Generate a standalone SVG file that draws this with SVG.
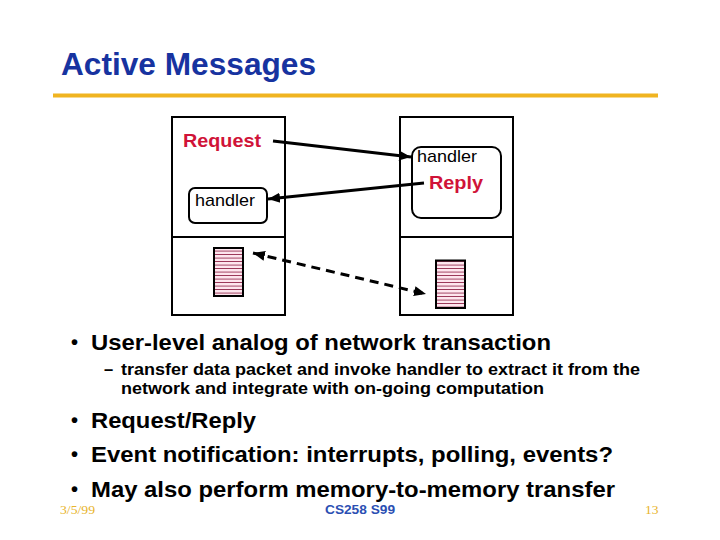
<svg xmlns="http://www.w3.org/2000/svg" width="720" height="540" viewBox="0 0 720 540">
<defs>
<style>
.sans{font-family:"Liberation Sans",Arial,sans-serif}
.serif{font-family:"Liberation Serif","Times New Roman",serif}
.title{font-size:31px;font-weight:bold;fill:#1733a0}
.b1{font-size:22px;font-weight:bold;fill:#000}
.dot{font-size:20px;font-weight:bold;fill:#000}
.b2{font-size:16.5px;font-weight:bold;fill:#000}
.red{font-size:19px;font-weight:bold;fill:#d01338}
.hd{font-size:17px;fill:#000}
.box{fill:#fff;stroke:#000;stroke-width:2}
.hbox{fill:#fff;stroke:#000;stroke-width:2}
.mem{fill:url(#stripes);stroke:#000;stroke-width:2}
.conn{stroke:#000;stroke-width:3;fill:none}
.foot{font-size:13.5px;fill:#e8b42c}
.cs{font-size:13px;font-weight:bold;fill:#2b4fb3}
</style>
<pattern id="stripes" patternUnits="userSpaceOnUse" x="0" y="248" width="4" height="3.5">
<rect width="4" height="3.5" fill="#fde6ee"/>
<rect y="2.7" width="4" height="0.9" fill="#8a1a40"/>
</pattern>
<marker id="ah" markerUnits="userSpaceOnUse" markerWidth="14" markerHeight="12" refX="12" refY="6" orient="auto-start-reverse">
<path d="M0,1 L12,6 L0,11 Z" fill="#000"/>
</marker>
</defs>
<rect width="720" height="540" fill="#fff"/>
<g id="title">
<text class="sans title" x="61" y="75" textLength="255" lengthAdjust="spacingAndGlyphs">Active Messages</text>
<rect x="53" y="93.5" width="605" height="4" fill="#f0b420"/>
</g>
<g id="node-left">
<rect class="box" x="172" y="117" width="113" height="120"/>
<rect class="box" x="172" y="237" width="113" height="78"/>
<text class="sans red" x="183" y="147" textLength="78" lengthAdjust="spacingAndGlyphs">Request</text>
<rect class="hbox" x="189" y="188" width="78" height="35" rx="6"/>
<text class="sans hd" x="195" y="206" textLength="60" lengthAdjust="spacingAndGlyphs">handler</text>
<rect class="mem" x="214" y="248" width="29" height="48"/>
</g>
<g id="node-right">
<rect class="box" x="400" y="117" width="113" height="120"/>
<rect class="box" x="400" y="237" width="113" height="78"/>
<rect class="hbox" x="412" y="147" width="89" height="71" rx="9"/>
<text class="sans hd" x="417" y="162" textLength="60" lengthAdjust="spacingAndGlyphs">handler</text>
<text class="sans red" x="429" y="189" textLength="54" lengthAdjust="spacingAndGlyphs">Reply</text>
<rect class="mem" x="436" y="260.5" width="29" height="47.5"/>
</g>
<g id="connectors">
<line class="conn" x1="273" y1="141" x2="411" y2="157" marker-end="url(#ah)"/>
<line class="conn" x1="424" y1="183" x2="268" y2="199" marker-end="url(#ah)"/>
<line class="conn" x1="253" y1="253" x2="426" y2="294" stroke-dasharray="9,6" marker-start="url(#ah)" marker-end="url(#ah)"/>
</g>
<g id="bullets">
<text class="sans dot" x="71" y="349">•</text>
<text class="sans b1" x="91" y="350" textLength="460" lengthAdjust="spacingAndGlyphs">User-level analog of network transaction</text>
<text class="sans b2" x="104" y="375">–</text>
<text class="sans b2" x="121" y="375" textLength="519" lengthAdjust="spacingAndGlyphs">transfer data packet and invoke handler to extract it from the</text>
<text class="sans b2" x="121" y="394" textLength="423" lengthAdjust="spacingAndGlyphs">network and integrate with on-going computation</text>
<text class="sans dot" x="71" y="427">•</text>
<text class="sans b1" x="91" y="428" textLength="165" lengthAdjust="spacingAndGlyphs">Request/Reply</text>
<text class="sans dot" x="71" y="461">•</text>
<text class="sans b1" x="91" y="462" textLength="522" lengthAdjust="spacingAndGlyphs">Event notification: interrupts, polling, events?</text>
<text class="sans dot" x="71" y="496">•</text>
<text class="sans b1" x="91" y="497" textLength="524" lengthAdjust="spacingAndGlyphs">May also perform memory-to-memory transfer</text>
</g>
<g id="footer">
<text class="serif foot" x="60" y="514" textLength="35" lengthAdjust="spacingAndGlyphs">3/5/99</text>
<text class="sans cs" x="325" y="514" textLength="70" lengthAdjust="spacingAndGlyphs">CS258 S99</text>
<text class="serif foot" x="645" y="514">13</text>
</g>
</svg>
